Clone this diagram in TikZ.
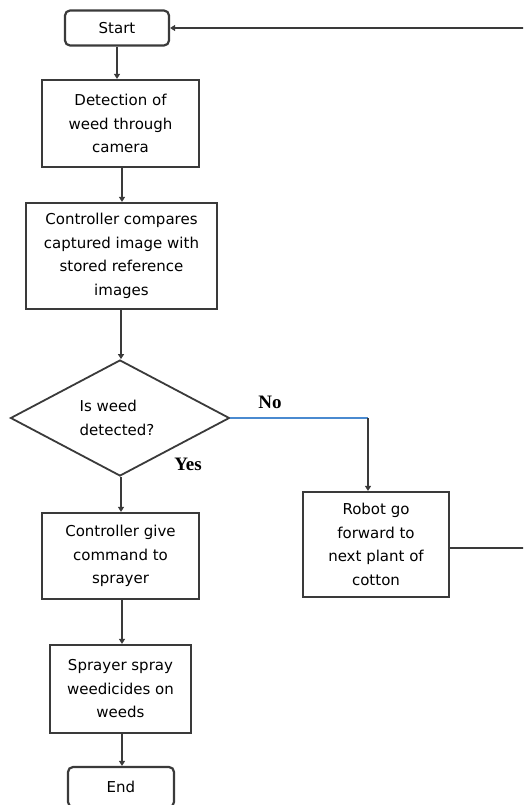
\documentclass[tikz,border=0pt]{standalone}
\usepackage{fontspec}
\usetikzlibrary{shapes.geometric,arrows.meta}
\newfontfamily\boxfont{DejaVu Sans}
\newfontfamily\lblfont{Liberation Serif}
\definecolor{edge}{HTML}{3A3A3A}
\definecolor{noline}{HTML}{4A8AD0}
\begin{document}
\begin{tikzpicture}[x=1pt,y=-1pt,
  every node/.style={font=\boxfont\fontsize{15}{23.5}\selectfont, inner sep=0pt},
  procbox/.style={draw=edge, line width=2.2pt, rectangle, align=center},
  termbox/.style={draw=edge, line width=2.2pt, rectangle, rounded corners=5pt, align=center},
  decbox/.style={draw=edge, line width=1.8pt, diamond, aspect=1.9, align=left},
  conn/.style={draw=edge, line width=2pt},
  arr/.style={conn, -{Triangle[length=5pt,width=6pt]}},
  lbl/.style={font=\lblfont\bfseries\fontsize{19}{22}\selectfont}]
\useasboundingbox (0,0) rectangle (523,805);
\clip (0,0) rectangle (523,805);
\node[termbox, minimum width=104pt, minimum height=35pt] (start) at (117,28) {Start};
\node[procbox, minimum width=157pt, minimum height=87pt] (det) at (120.5,123.5) {Detection of\\weed through\\camera};
\node[procbox, minimum width=191pt, minimum height=106pt] (cmp) at (121.5,256) {Controller compares\\captured image with\\stored reference\\images};
\node[decbox, minimum width=219pt, minimum height=116pt] (dec) at (120,418) {Is weed\\detected?\hspace*{6pt}};
\node[procbox, minimum width=157pt, minimum height=86pt] (give) at (120.5,556) {Controller give\\command to\\sprayer};
\node[procbox, minimum width=141pt, minimum height=88pt] (spray) at (120.5,689) {Sprayer spray\\weedicides on\\weeds};
\node[termbox, minimum width=106pt, minimum height=40pt] (end) at (121,787) {End};
\node[procbox, minimum width=146pt, minimum height=105pt] (robot) at (376,544.5) {Robot go\\forward to\\next plant of\\cotton};
\node[lbl] (no) at (270,402) {No};
\node[lbl] (yes) at (188,464) {Yes};
\coordinate (turn) at (368,418);
\coordinate (rb) at (530,548);
\coordinate (rt) at (530,28);
\draw[arr] (start.south) -- (start.south |- det.north);
\draw[arr] ([xshift=1.5pt]det.south) -- ([xshift=1.5pt]det.south |- cmp.north);
\draw[arr] ([xshift=-0.5pt]cmp.south) -- ([xshift=-0.5pt]cmp.south |- dec.north);
\draw[arr] ([xshift=1pt]dec.south) -- ([xshift=1pt]dec.south |- give.north);
\draw[arr] ([xshift=1.5pt]give.south) -- ([xshift=1.5pt]give.south |- spray.north);
\draw[arr] ([xshift=1.5pt]spray.south) -- ([xshift=1.5pt]spray.south |- end.north);
\draw[noline, line width=2pt] (dec.east) -- (turn);
\draw[arr] (turn) -- (turn |- robot.north);
\draw[conn] (robot.east |- rb) -- (rb) -- (rt);
\draw[arr] (rt) -- (start.east);
\end{tikzpicture}
\end{document}
